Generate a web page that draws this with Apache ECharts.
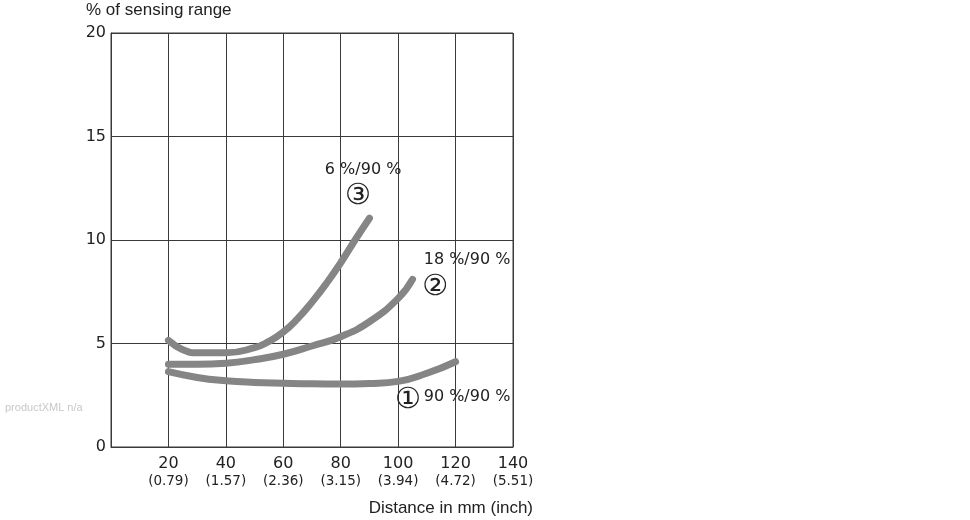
<!DOCTYPE html>
<html>
<head>
<meta charset="utf-8">
<script src="https://cdn.jsdelivr.net/npm/echarts@6/dist/echarts.min.js"></script>
<style>html,body{margin:0;padding:0;background:#fff}#c{width:970px;height:520px}</style>
</head>
<body>
<div id="c"></div>
<script>
// Tick labels
const xTicksMm = [0, 20, 40, 60, 80, 100, 120, 140];
const xTicksInch = ['', '0.79', '1.57', '2.36', '3.15', '3.94', '4.72', '5.51'];
const yTicks = [0, 5, 10, 15, 20];

// Series data: [distance mm, % of sensing range]
const curve1 = [[20,3.64],[30,3.36],[40,3.2],[50,3.12],[60,3.08],[70,3.05],[80,3.04],[90,3.07],[100,3.17],[110,3.56],[120,4.12]];
const curve2 = [[20,4.0],[30,4.0],[40,4.05],[50,4.22],[60,4.48],[70,4.88],[80,5.33],[90,6.05],[100,7.18],[105,8.1]];
const curve3 = [[20,5.15],[25,4.7],[30,4.55],[40,4.55],[50,4.8],[55,5.1],[60,5.55],[65,6.2],[70,7.0],[75,7.9],[80,8.9],[85,10.0],[90,11.05]];

// Annotations: [x, y, text, kind]
const annotations = [
  [87.8, 13.4, '6 %/90 %', 'text'],
  [86.0, 12.08, '③', 'circ'],
  [124.0, 9.03, '18 %/90 %', 'text'],
  [112.9, 7.73, '②', 'circ'],
  [103.4, 2.27, '①', 'circ'],
  [124.0, 2.42, '90 %/90 %', 'text']
];

const FONT = '"DejaVu Sans", "Liberation Sans", Arial, sans-serif';
const NAME_FONT = '"Liberation Sans", Arial, sans-serif';
const CIRC_FONT = '"DejaVu Sans", "Noto Sans CJK JP", sans-serif';
const lineColor = '#858585';
const gridColor = '#3a3a3a';

const chart = echarts.init(document.getElementById('c'), null, {renderer: 'canvas'});

function mkSeries(data) {
  return {
    type: 'line', data: data, smooth: 0.5, showSymbol: false, symbol: 'none',
    lineStyle: {color: lineColor, width: 7, cap: 'round', join: 'round'},
    silent: true
  };
}

chart.setOption({
  animation: false,
  backgroundColor: '#fff',
  grid: {left: 111, right: 457, top: 33, bottom: 73, show: false},
  xAxis: {
    type: 'value', min: 0, max: 140, interval: 20,
    axisLine: {show: true, lineStyle: {color: gridColor, width: 1}},
    axisTick: {show: false},
    splitLine: {show: true, lineStyle: {color: gridColor, width: 1}},
    axisLabel: {
      margin: 8,
      formatter: function (v) {
        const i = xTicksMm.indexOf(v);
        if (i <= 0) return '';
        return '{a|' + xTicksMm[i] + '}\n{b|(' + xTicksInch[i] + ')}';
      },
      rich: {
        a: {fontFamily: FONT, fontSize: 16, color: '#222', lineHeight: 18},
        b: {fontFamily: FONT, fontSize: 13.5, color: '#222', lineHeight: 16}
      }
    }
  },
  yAxis: {
    type: 'value', min: 0, max: 20, interval: 5,
    axisLine: {show: true, lineStyle: {color: gridColor, width: 1}},
    axisTick: {show: false},
    splitLine: {show: true, lineStyle: {color: gridColor, width: 1}},
    axisLabel: {
      margin: 5, fontFamily: FONT, fontSize: 16, color: '#222',
      formatter: function (v) { return yTicks.indexOf(v) >= 0 ? String(v) : ''; }
    }
  },
  series: [mkSeries(curve1), mkSeries(curve2), mkSeries(curve3)]
});

const graphics = [];
const gp0 = chart.convertToPixel({gridIndex: 0}, [0, 0]);
const gp1 = chart.convertToPixel({gridIndex: 0}, [140, 20]);
graphics.push({type: 'rect', shape: {x: gp0[0], y: gp1[1], width: gp1[0] - gp0[0], height: gp0[1] - gp1[1]},
  style: {fill: 'none', stroke: gridColor, lineWidth: 1}, z: 1, silent: true});

annotations.forEach(function (a) {
  const p = chart.convertToPixel({gridIndex: 0}, [a[0], a[1]]);
  graphics.push({
    type: 'text', x: p[0], y: p[1], z: 10,
    style: {
      text: a[2], fill: '#222', align: 'center', verticalAlign: 'middle',
      font: a[3] === 'circ' ? '29px ' + CIRC_FONT : '16px ' + FONT
    }
  });
});

graphics.push({type: 'text', x: 86, y: 10, style: {text: '% of sensing range', fill: '#222', align: 'left', verticalAlign: 'middle', font: '17px ' + NAME_FONT}});
graphics.push({type: 'text', x: 533, y: 508, style: {text: 'Distance in mm (inch)', fill: '#222', align: 'right', verticalAlign: 'middle', font: '17px ' + NAME_FONT}});
graphics.push({type: 'text', x: 5, y: 408, style: {text: 'productXML n/a', fill: '#c8c8c8', align: 'left', verticalAlign: 'middle', font: '11px ' + NAME_FONT}});

chart.setOption({graphic: graphics});
</script>
</body>
</html>
